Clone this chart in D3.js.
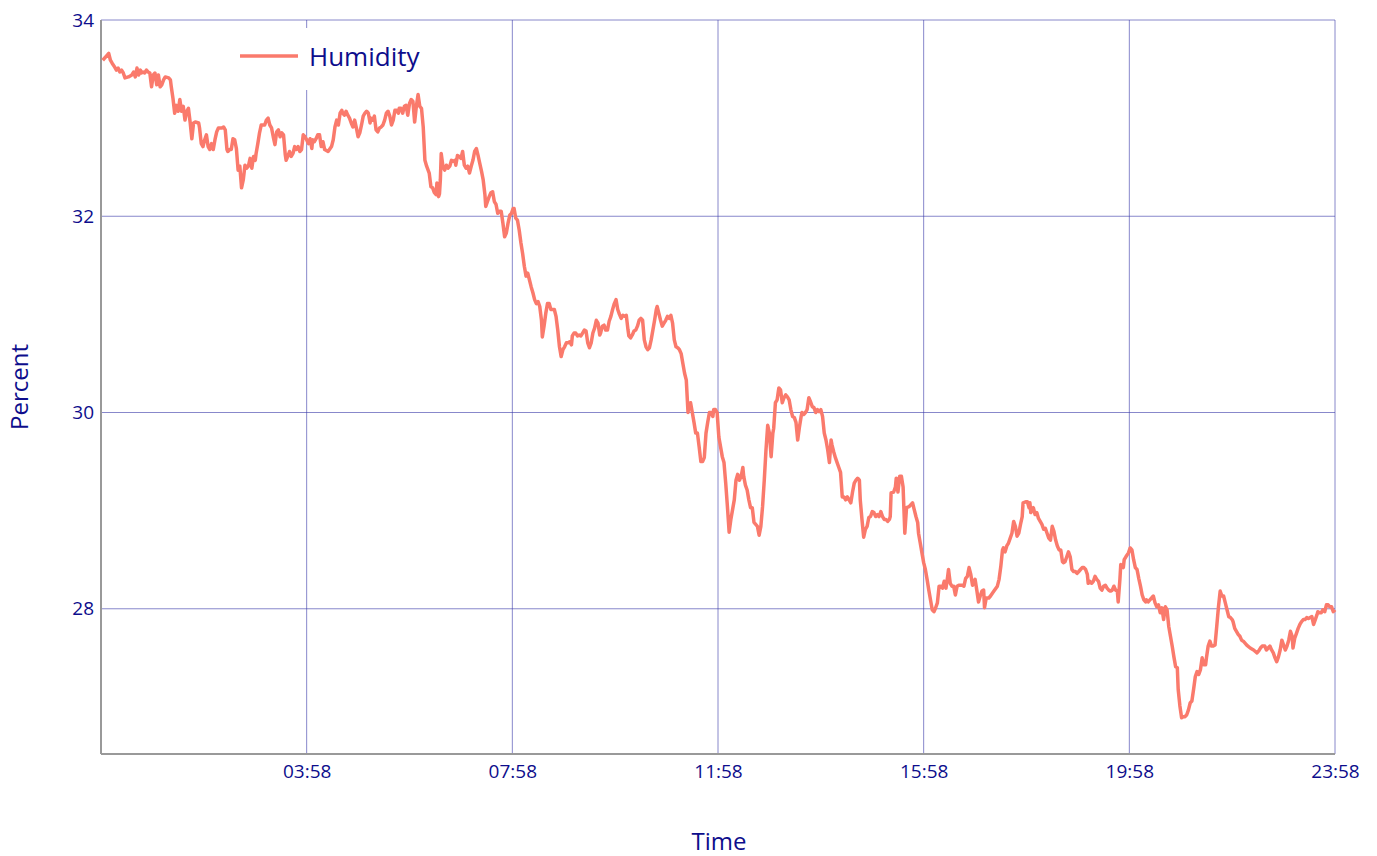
<!DOCTYPE html>
<html>
<head>
<meta charset="utf-8">
<script src="https://cdn.jsdelivr.net/npm/d3@7/dist/d3.min.js"></script>
<style>
  html, body { margin: 0; padding: 0; background: #fff; }
  svg { display: block; font-family: "Open Sans", "Noto Sans", sans-serif; }
</style>
</head>
<body>
<svg id="chart" width="1377" height="856"></svg>
<script>
// minutes since 00:00
const minutes = [0,5,7,9,11,14,16,18,20,22,24,26,30,34,36,38,40,42,44,45,47,49,51,53,55,57,59,61,63,65,67,69,71,73,77,79,80,82,84,86,88,90,92,94,96,98,100,102,104,106,108,112,113,115,117,119,121,123,125,127,129,131,133,135,139,141,143,145,146,148,150,152,154,156,158,160,162,164,166,168,170,172,174,176,178,179,181,183,185,189,191,193,195,197,199,201,203,205,207,209,211,213,214,216,218,220,222,224,226,228,230,232,234,236,238,240,242,244,245,247,249,251,253,255,257,259,263,267,269,271,273,275,277,279,280,282,284,286,288,290,292,294,296,298,300,302,304,306,308,310,312,313,315,317,319,321,323,325,327,329,331,333,335,337,339,341,343,345,346,348,350,352,354,356,358,360,362,364,366,368,370,372,374,376,378,381,383,385,387,389,390,392,393,394,395,397,399,401,403,405,407,409,411,412,414,416,418,420,422,424,426,428,430,432,434,436,438,440,442,444,446,447,449,451,453,455,457,459,461,463,465,467,469,471,473,475,477,479,480,482,484,486,488,490,492,494,496,498,500,502,504,506,508,510,512,513,515,517,519,521,523,525,527,529,531,533,535,537,539,541,543,545,547,548,550,552,554,556,558,560,562,564,566,568,570,572,574,576,578,580,581,583,585,587,589,591,593,595,597,599,601,603,605,607,609,611,613,614,616,618,620,622,624,626,628,630,632,634,636,638,640,642,644,646,647,649,651,653,655,657,659,661,663,665,667,669,671,673,675,677,679,681,683,684,686,688,690,692,694,696,698,700,702,704,706,708,710,712,713,715,717,719,721,723,725,727,729,731,733,735,737,739,741,743,745,747,748,750,752,754,756,758,760,762,764,766,768,770,772,774,776,778,780,782,783,785,787,789,791,793,795,797,799,801,803,805,807,809,811,813,815,816,818,820,822,824,826,828,830,832,834,836,838,840,842,844,846,848,850,851,853,855,857,859,861,863,865,867,869,871,873,875,877,879,881,883,884,886,888,890,892,894,896,898,900,902,904,906,908,910,912,914,916,918,919,920,923,925,926,928,930,932,934,936,938,941,945,947,949,951,952,954,956,958,960,962,964,966,968,970,972,974,976,978,980,982,984,986,987,989,991,993,995,997,999,1001,1003,1005,1007,1009,1011,1013,1015,1017,1018,1020,1022,1024,1026,1028,1029,1031,1034,1036,1040,1044,1046,1048,1050,1051,1053,1055,1057,1059,1061,1063,1065,1067,1069,1071,1073,1074,1077,1079,1081,1082,1083,1086,1088,1090,1092,1094,1096,1098,1100,1102,1104,1106,1108,1110,1112,1114,1116,1118,1120,1121,1123,1125,1127,1129,1131,1133,1135,1137,1139,1141,1143,1145,1147,1149,1150,1152,1154,1156,1158,1160,1162,1164,1166,1168,1170,1172,1174,1176,1178,1180,1182,1184,1185,1187,1188,1191,1192,1194,1197,1199,1201,1203,1205,1207,1209,1211,1213,1215,1217,1218,1220,1222,1224,1226,1228,1230,1232,1234,1236,1238,1240,1242,1244,1246,1248,1250,1252,1254,1255,1257,1259,1261,1263,1265,1267,1269,1271,1273,1275,1277,1279,1281,1283,1285,1287,1288,1290,1292,1294,1296,1298,1300,1302,1304,1306,1308,1310,1312,1314,1316,1318,1319,1321,1323,1325,1327,1329,1331,1335,1339,1343,1347,1349,1351,1353,1356,1358,1360,1362,1364,1366,1368,1370,1372,1374,1376,1378,1380,1382,1384,1386,1388,1389,1391,1393,1395,1397,1399,1401,1403,1405,1407,1409,1411,1413,1415,1417,1418,1420,1422,1424,1426,1428,1430,1432,1434,1436,1438];

const humidity = [33.59,33.64,33.66,33.59,33.56,33.52,33.49,33.51,33.47,33.49,33.46,33.41,33.42,33.44,33.47,33.42,33.51,33.44,33.49,33.46,33.47,33.46,33.49,33.47,33.46,33.32,33.44,33.46,33.34,33.44,33.32,33.34,33.39,33.42,33.41,33.39,33.32,33.20,33.05,33.13,33.07,33.19,33.07,33.12,32.98,33.07,33.10,32.96,32.79,32.95,32.96,32.95,32.90,32.74,32.71,32.78,32.83,32.71,32.68,32.74,32.68,32.78,32.86,32.90,32.90,32.91,32.88,32.68,32.66,32.68,32.68,32.79,32.78,32.69,32.47,32.51,32.29,32.37,32.52,32.49,32.51,32.59,32.49,32.61,32.57,32.64,32.74,32.85,32.93,32.93,32.98,33.00,32.93,32.90,32.81,32.73,32.86,32.88,32.81,32.85,32.83,32.63,32.57,32.61,32.66,32.61,32.64,32.71,32.68,32.71,32.66,32.68,32.83,32.81,32.78,32.74,32.79,32.69,32.78,32.76,32.79,32.83,32.83,32.71,32.76,32.68,32.66,32.71,32.78,32.91,32.98,32.93,33.05,33.08,33.05,33.03,33.07,33.03,33.00,32.95,32.91,32.98,32.90,32.81,32.85,32.93,33.02,33.05,33.07,33.05,32.95,33.00,32.98,33.02,32.88,32.86,32.90,32.91,32.93,32.98,33.05,33.07,33.02,32.93,32.98,33.08,33.08,33.05,33.10,33.10,33.05,33.12,33.13,33.03,33.15,33.19,33.17,32.96,33.12,33.24,33.12,33.10,32.91,32.57,32.51,32.44,32.30,32.29,32.24,32.22,32.34,32.20,32.23,32.37,32.64,32.51,32.47,32.52,32.49,32.51,32.57,32.56,32.57,32.52,32.62,32.61,32.59,32.66,32.52,32.49,32.51,32.44,32.51,32.57,32.66,32.69,32.62,32.54,32.46,32.37,32.22,32.10,32.15,32.20,32.24,32.25,32.15,32.12,32.03,32.05,32.05,31.93,31.79,31.83,31.93,32.01,32.03,32.08,32.08,31.98,31.96,31.86,31.73,31.62,31.49,31.39,31.42,31.35,31.28,31.22,31.15,31.11,31.13,31.08,30.94,30.77,30.88,31.01,31.11,31.11,31.05,31.05,31.05,30.98,30.84,30.67,30.57,30.64,30.67,30.71,30.71,30.72,30.69,30.78,30.81,30.81,30.78,30.79,30.78,30.81,30.84,30.83,30.71,30.66,30.71,30.81,30.86,30.94,30.91,30.79,30.81,30.88,30.89,30.84,30.84,30.93,30.98,31.05,31.11,31.15,31.05,31.00,30.96,30.99,30.98,30.99,30.84,30.78,30.76,30.79,30.83,30.84,30.88,30.94,30.96,30.94,30.74,30.67,30.64,30.66,30.74,30.84,30.94,31.05,31.08,31.01,30.94,30.88,30.91,30.94,30.98,30.96,30.99,30.91,30.74,30.67,30.66,30.64,30.60,30.50,30.40,30.33,30.00,30.06,30.10,30.00,29.90,29.79,29.79,29.65,29.50,29.50,29.54,29.79,29.90,30.00,30.00,29.96,30.03,30.03,30.00,29.75,29.65,29.55,29.49,29.28,29.04,28.78,28.91,29.01,29.11,29.31,29.37,29.31,29.35,29.44,29.35,29.26,29.21,29.11,29.03,29.03,28.88,28.86,28.84,28.75,28.84,29.04,29.31,29.62,29.87,29.79,29.55,29.79,29.84,30.10,30.13,30.25,30.23,30.10,30.15,30.18,30.16,30.13,30.03,29.96,29.95,29.90,29.72,29.85,29.96,30.00,29.98,30.00,30.03,30.15,30.11,30.06,30.05,30.00,30.03,30.01,30.03,29.96,29.79,29.72,29.62,29.49,29.72,29.67,29.60,29.54,29.49,29.44,29.39,29.14,29.14,29.11,29.14,29.11,29.08,29.19,29.28,29.31,29.33,29.31,29.11,28.91,28.73,28.81,28.84,28.93,28.94,28.99,28.98,28.94,28.96,28.94,28.99,28.94,28.91,28.91,28.89,28.91,28.94,29.18,29.19,29.24,29.33,29.19,29.35,29.35,29.24,28.77,29.03,29.04,29.08,29.01,28.94,28.88,28.77,28.67,28.57,28.47,28.40,28.30,28.19,28.09,27.99,27.97,28.01,28.06,28.23,28.23,28.21,28.28,28.21,28.33,28.40,28.26,28.23,28.23,28.14,28.23,28.24,28.24,28.24,28.23,28.31,28.33,28.42,28.35,28.24,28.28,28.30,28.19,28.07,28.13,28.18,28.19,28.01,28.11,28.11,28.13,28.18,28.23,28.30,28.43,28.60,28.62,28.58,28.64,28.67,28.72,28.77,28.89,28.84,28.74,28.77,28.86,28.94,29.08,29.09,29.09,29.03,29.08,28.98,29.03,28.96,28.98,28.92,28.89,28.86,28.81,28.82,28.77,28.72,28.70,28.84,28.79,28.70,28.64,28.60,28.60,28.48,28.47,28.48,28.53,28.58,28.53,28.40,28.38,28.38,28.36,28.38,28.40,28.42,28.42,28.40,28.35,28.26,28.28,28.26,28.28,28.33,28.30,28.28,28.21,28.19,28.23,28.24,28.21,28.19,28.18,28.19,28.23,28.19,28.18,28.07,28.30,28.45,28.42,28.50,28.53,28.57,28.62,28.60,28.50,28.42,28.40,28.31,28.23,28.14,28.09,28.07,28.09,28.07,28.09,28.11,28.13,28.06,28.02,28.04,27.96,28.01,27.89,28.02,27.99,27.82,27.72,27.62,27.51,27.41,27.40,27.18,27.01,26.89,26.90,26.90,26.92,26.97,27.04,27.06,27.18,27.31,27.36,27.33,27.38,27.50,27.43,27.43,27.50,27.62,27.67,27.62,27.62,27.63,27.82,28.02,28.18,28.13,28.13,28.06,27.99,27.92,27.91,27.89,27.87,27.80,27.77,27.74,27.72,27.68,27.67,27.63,27.60,27.58,27.55,27.57,27.60,27.62,27.62,27.58,27.60,27.62,27.58,27.55,27.50,27.46,27.51,27.58,27.68,27.63,27.58,27.62,27.68,27.77,27.72,27.60,27.70,27.75,27.80,27.84,27.87,27.89,27.89,27.91,27.90,27.91,27.92,27.84,27.89,27.94,27.97,27.96,27.96,27.99,27.97,28.04,28.04,28.02,28.02,27.97,27.99];

const yTickValues = [28, 30, 32, 34];
const xTickLabels = ["03:58", "07:58", "11:58", "15:58", "19:58", "23:58"];
const seriesName = "Humidity";
const xTitle = "Time";
const yTitle = "Percent";

const W = 1377, H = 856;
const margin = { top: 20, right: 42, bottom: 102, left: 101 };
const iw = W - margin.left - margin.right;
const ih = H - margin.top - margin.bottom;

const base = new Date(2024, 0, 1, 0, 0);
const toDate = m => new Date(base.getTime() + m * 60000);
const parseHM = s => { const [h, mm] = s.split(":").map(Number); return toDate(h * 60 + mm); };

const n = Math.min(minutes.length, humidity.length);
const data = d3.range(n).map(i => ({ t: toDate(minutes[i]), v: humidity[i] }));

const x = d3.scaleTime().domain([toDate(-2), parseHM("23:58")]).range([0, iw]);
const y = d3.scaleLinear().domain([26.52, 34]).range([ih, 0]);

const svg = d3.select("#chart");
const g = svg.append("g").attr("transform", `translate(${margin.left},${margin.top})`);

const gridColor = "#3838a8";
const textColor = "#0d0d8c";
const font = '"Open Sans", "Noto Sans", sans-serif';

// horizontal gridlines
g.append("g").selectAll("line").data(yTickValues).join("line")
  .attr("x1", 0).attr("x2", iw)
  .attr("y1", d => y(d)).attr("y2", d => y(d))
  .attr("stroke", gridColor).attr("stroke-opacity", 0.6).attr("stroke-width", 1);

// vertical gridlines
const xTicks = xTickLabels.map(parseHM);
g.append("g").selectAll("line").data(xTicks).join("line")
  .attr("x1", d => x(d)).attr("x2", d => x(d))
  .attr("y1", 0).attr("y2", ih)
  .attr("stroke", gridColor).attr("stroke-opacity", 0.6).attr("stroke-width", 1);

// axes lines
g.append("line").attr("x1", 0).attr("x2", 0).attr("y1", 0).attr("y2", ih)
  .attr("stroke", "#999").attr("stroke-width", 2);
g.append("line").attr("x1", 0).attr("x2", iw).attr("y1", ih).attr("y2", ih)
  .attr("stroke", "#999").attr("stroke-width", 2);

// y tick labels via axis
const yAxis = d3.axisLeft(y).tickValues(yTickValues).tickSize(0).tickPadding(7).tickFormat(d3.format("d"));
const ya = g.append("g").call(yAxis);
ya.select(".domain").remove();
ya.selectAll("text").attr("fill", textColor).style("font-size", "19px").style("font-family", font);

// x tick labels via axis
const xAxis = d3.axisBottom(x).tickValues(xTicks).tickSize(0).tickPadding(11).tickFormat(d3.timeFormat("%H:%M"));
const xa = g.append("g").attr("transform", `translate(0,${ih})`).call(xAxis);
xa.select(".domain").remove();
xa.selectAll("text").attr("fill", textColor).style("font-size", "19px").style("font-family", font);

// line
const line = d3.line().x(d => x(d.t)).y(d => y(d.v));
g.append("path").datum(data)
  .attr("fill", "none").attr("stroke", "#fa7a6c").attr("stroke-width", 3.5)
  .attr("stroke-linejoin", "round").attr("d", line);

// legend
const lg = svg.append("g").attr("transform", "translate(225,28)");
lg.append("rect").attr("x", 0).attr("y", 0).attr("width", 210).attr("height", 62).attr("fill", "#fff");
lg.append("line").attr("x1", 15).attr("x2", 73).attr("y1", 28).attr("y2", 28)
  .attr("stroke", "#fa7a6c").attr("stroke-width", 3.5);
lg.append("text").attr("x", 84).attr("y", 38).text(seriesName)
  .attr("fill", textColor).style("font-size", "26px").style("font-family", font);

// axis titles
svg.append("text").attr("x", margin.left + iw / 2 + 1).attr("y", 850)
  .attr("text-anchor", "middle").attr("fill", textColor).style("font-size", "24px").style("font-family", font).text(xTitle);
svg.append("text").attr("transform", `translate(28,387) rotate(-90)`)
  .attr("text-anchor", "middle").attr("fill", textColor).style("font-size", "24px").style("font-family", font).text(yTitle);
</script>
</body>
</html>
